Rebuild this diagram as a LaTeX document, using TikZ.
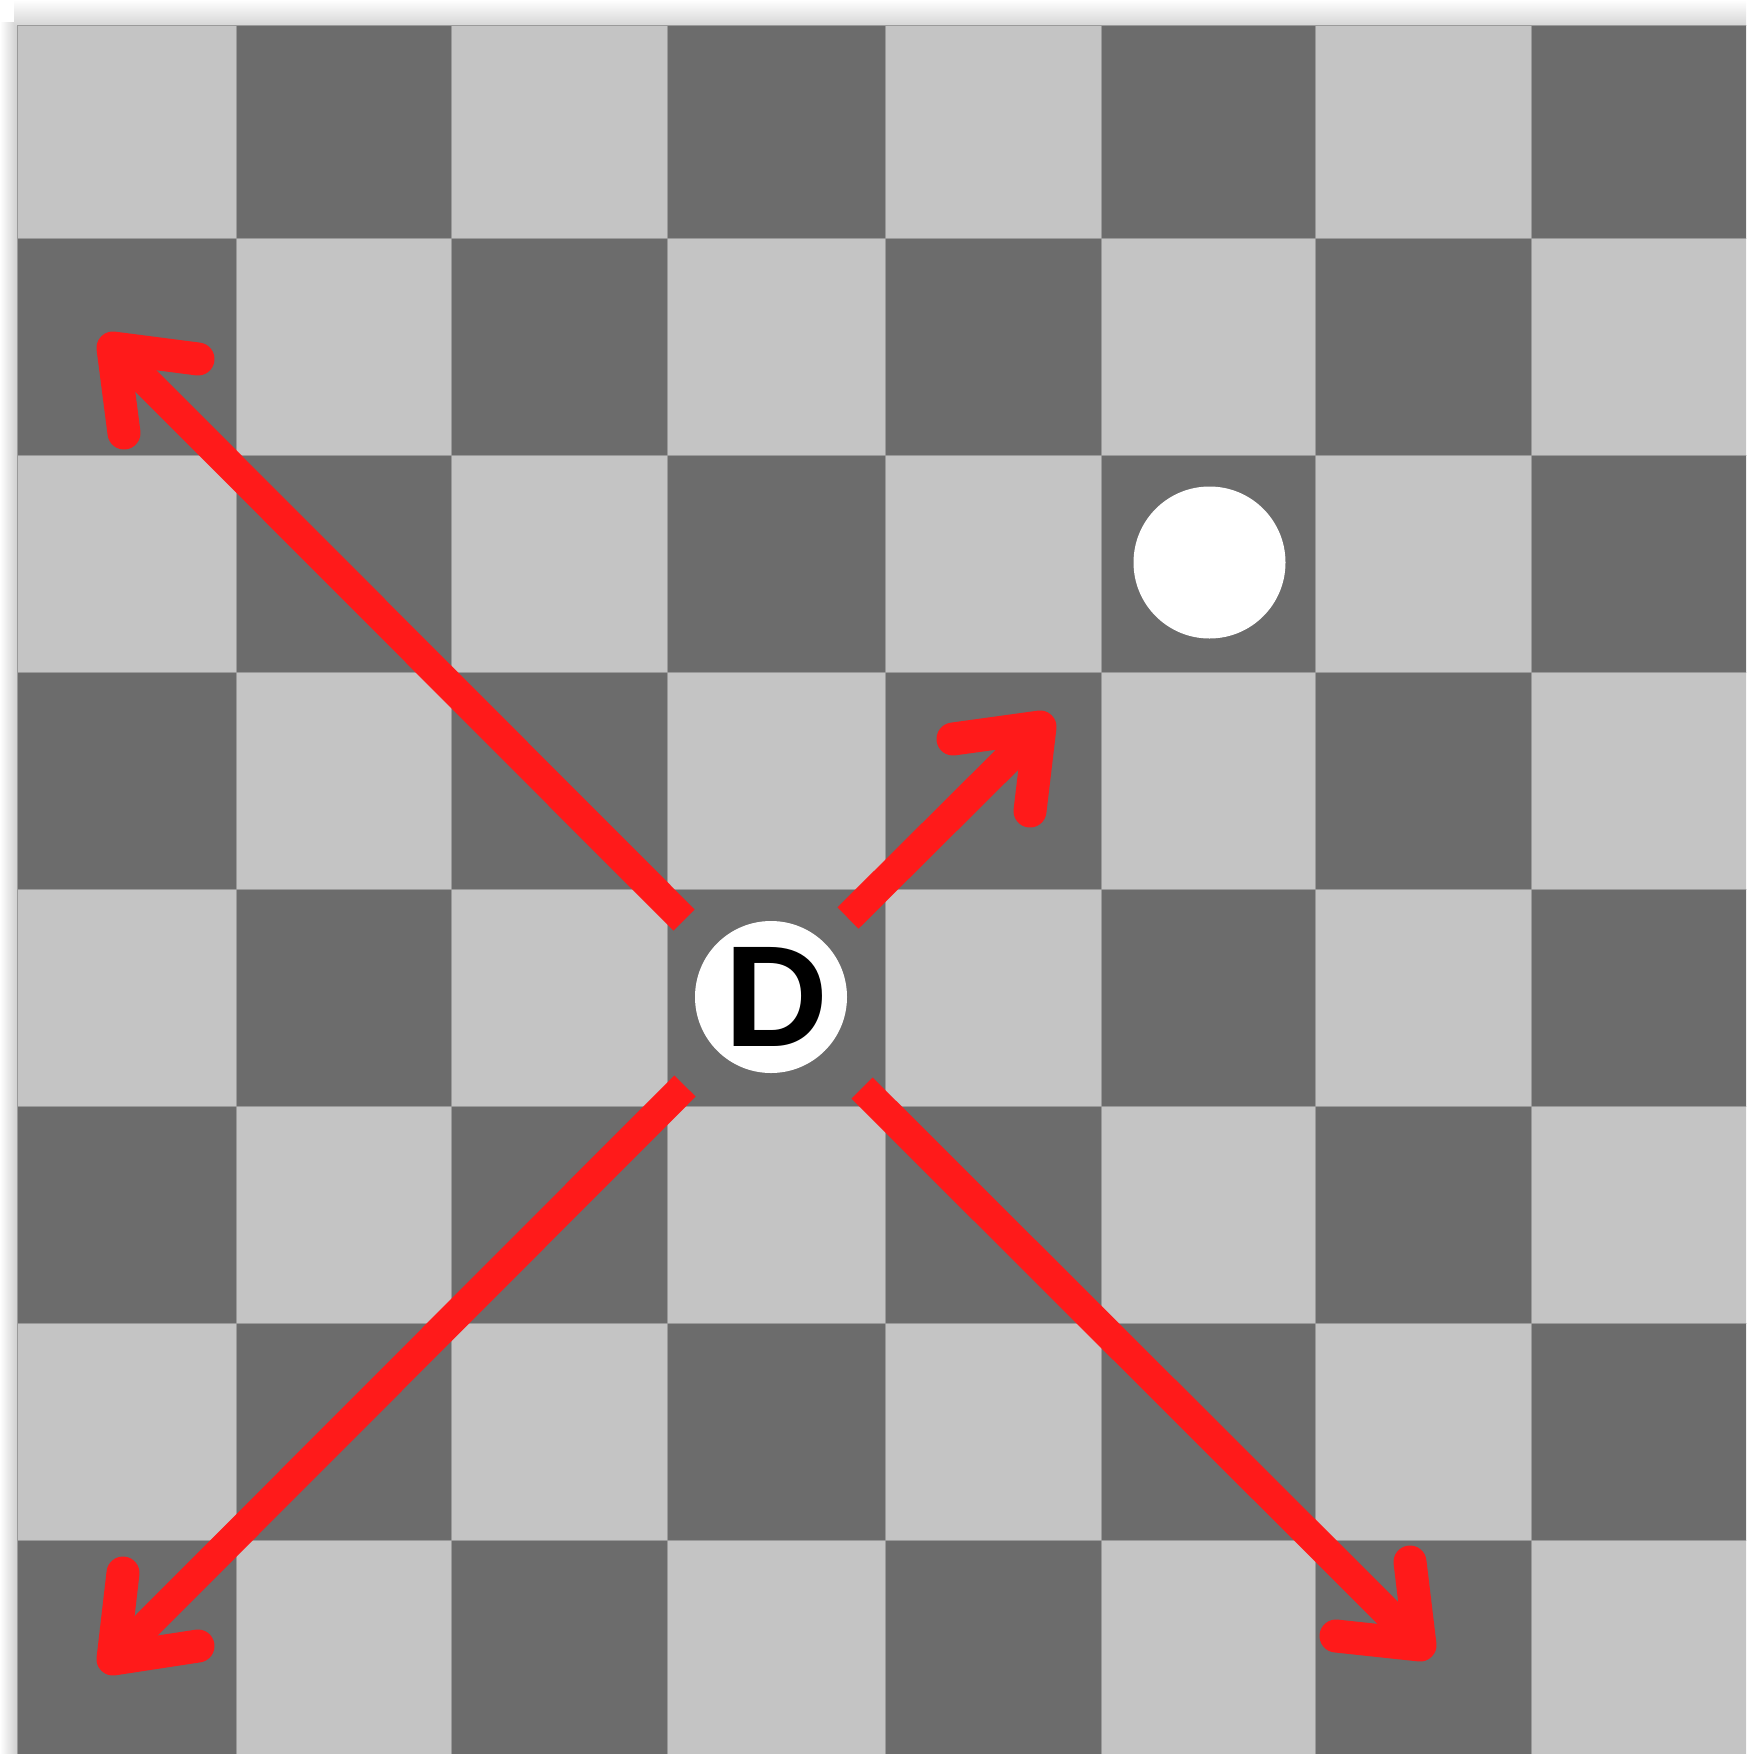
\documentclass[tikz,border=0pt]{standalone}
\usepackage{fontspec}
\setmainfont{Liberation Sans}
\definecolor{lightsq}{HTML}{C4C4C4}
\definecolor{darksq}{HTML}{6C6C6C}
\definecolor{gridln}{HTML}{9A9A9A}
\definecolor{arrowred}{HTML}{FF1A1A}
\definecolor{shadowgray}{HTML}{CFCFCF}
\tikzset{
  lightcell/.style={fill=lightsq, draw=gridln, line width=0.8pt},
  darkcell/.style={fill=darksq, draw=gridln, line width=0.8pt},
  piece/.style={circle, fill=white, minimum size=152pt, inner sep=0pt, draw=none},
  letter/.style={font=\bfseries\fontsize{144}{144}\selectfont, text=black, inner sep=0pt},
  shaft/.style={draw=arrowred, line width=30pt, line cap=butt},
  head/.style={draw=arrowred, line width=33pt, line cap=round, line join=round}
}
\begin{document}
\begin{tikzpicture}[x=1pt, y=-1pt]
\useasboundingbox (0,0) rectangle (1746,1754);
\fill[white] (0,0) rectangle (1746,1754);
\clip (0,0) rectangle (1746,1754);
% board shadow (left and top)
\shade[left color=white, right color=shadowgray] (0,22) rectangle (17,1754);
\shade[top color=white, bottom color=shadowgray!85!white] (14,0) rectangle (1746,25);
% squares
\foreach \c/\xa/\xb in {0/17/236, 1/236/451, 2/451/667, 3/667/885, 4/885/1101, 5/1101/1315, 6/1315/1531, 7/1531/1749}{
  \foreach \r/\ya/\yb in {0/25/238, 1/238/455, 2/455/672, 3/672/889, 4/889/1106, 5/1106/1323, 6/1323/1540, 7/1540/1757}{
    \pgfmathtruncatemacro{\cellpar}{mod(\c+\r,2)}
    \ifnum\cellpar=0
      \path[lightcell] (\xa,\ya) rectangle (\xb,\yb);
    \else
      \path[darkcell] (\xa,\ya) rectangle (\xb,\yb);
    \fi
  }
}
% pieces
\node[piece] (dpiece) at (771,997) {};
\node[letter] (dlabel) at (776,996.5) {D};
\node[piece] (wpiece) at (1209.5,562.5) {};
% arrow coordinates
\coordinate (nwS) at (684,920);  \coordinate (nwT) at (113,348);
\coordinate (neS) at (848,918);  \coordinate (neT) at (1040,727);
\coordinate (swS) at (685,1086); \coordinate (swT) at (113,1659);
\coordinate (seS) at (862,1088); \coordinate (seT) at (1420,1645);
% shafts
\draw[shaft] (nwS) -- (nwT);
\draw[shaft] (neS) -- (neT);
\draw[shaft] (swS) -- (swT);
\draw[shaft] (seS) -- (seT);
% heads
\draw[head] ([shift={(85,11)}]nwT) -- (nwT) -- ([shift={(11,85)}]nwT);
\draw[head] ([shift={(-87,12)}]neT) -- (neT) -- ([shift={(-10,84)}]neT);
\draw[head] ([shift={(85,-13)}]swT) -- (swT) -- ([shift={(10,-86)}]swT);
\draw[head] ([shift={(-10,-83)}]seT) -- (seT) -- ([shift={(-84,-9)}]seT);
\end{tikzpicture}
\end{document}
